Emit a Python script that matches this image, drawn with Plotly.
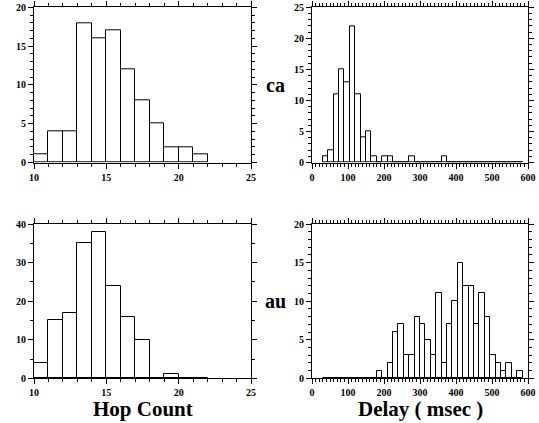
import plotly.graph_objects as go

# Hop count histograms (bin width 1)
hop_bins = [10, 11, 12, 13, 14, 15, 16, 17, 18, 19, 20, 21]
hop_ca = [1, 4, 4, 18, 16, 17, 12, 8, 5, 2, 2, 1]
hop_au = [4, 15, 17, 35, 38, 24, 16, 10, 0, 1, 0, 0]

# Delay histograms (bin width 15 msec), left edges
delay_bins = [30, 45, 60, 75, 90, 105, 120, 135, 150, 165, 180, 195, 210, 225, 240,
              255, 270, 285, 300, 315, 330, 345, 360, 375, 390, 405, 420, 435, 450,
              465, 480, 495, 510, 525, 540, 555, 570]
delay_ca = [1, 2, 11, 15, 13, 22, 11, 4, 5, 1, 0, 1, 1, 0, 0,
            0, 1, 0, 0, 0, 0, 0, 1, 0, 0, 0, 0, 0, 0,
            0, 0, 0, 0, 0, 0, 0, 0]
delay_au = [0, 0, 0, 0, 0, 0, 0, 0, 0, 0, 1, 0, 2, 6, 7,
            3, 3, 8, 7, 5, 3, 11, 2, 7, 10, 15, 12, 12, 7,
            11, 8, 3, 2, 1, 2, 0, 1]

HOP_W = 1
DELAY_W = 15
row_labels = ["ca", "au"]
x_titles = ["Hop Count", "Delay ( msec )"]

FONT = "Liberation Serif"
fig = go.Figure()

def add_bars(x, y, w, xa, ya):
    fig.add_trace(go.Bar(x=x, y=y, width=w, offset=0, xaxis=xa, yaxis=ya,
                         marker=dict(color="white", line=dict(color="black", width=1)),
                         showlegend=False, hoverinfo="skip"))

add_bars(hop_bins, hop_ca, HOP_W, "x", "y")
add_bars(delay_bins, delay_ca, DELAY_W, "x2", "y2")
add_bars(hop_bins, hop_au, HOP_W, "x3", "y3")
add_bars(delay_bins, delay_au, DELAY_W, "x4", "y4")

tickfont = dict(family=FONT, size=10, color="black", weight="bold")

def xax(dom, anchor, rng, dtick, minor):
    return dict(domain=dom, anchor=anchor, range=rng, dtick=dtick, tick0=rng[0],
                showgrid=False, zeroline=False, showline=True, linecolor="black",
                linewidth=1, mirror="ticks", ticks="outside", ticklen=5, tickwidth=1,
                tickcolor="black", tickfont=tickfont,
                minor=dict(dtick=minor, ticks="outside", ticklen=3, tickcolor="black",
                           showgrid=False))

def yax(dom, anchor, rng, dtick, minor):
    return dict(domain=dom, anchor=anchor, range=rng, dtick=dtick, tick0=0,
                showgrid=False, zeroline=False, showline=True, linecolor="black",
                linewidth=1, mirror="ticks", ticks="outside", ticklen=5, tickwidth=1,
                tickcolor="black", tickfont=tickfont,
                minor=dict(dtick=minor, ticks="outside", ticklen=3, tickcolor="black",
                           showgrid=False))

xl = [34 / 539, 251 / 539]
xr = [312 / 539, 528 / 539]
yt = [1 - 162.5 / 423, 1 - 7.3 / 423]
yb = [1 - 378.3 / 423, 1 - 224 / 423]

fig.update_layout(
    autosize=True, margin=dict(l=0, r=0, t=0, b=0, autoexpand=False),
    paper_bgcolor="white", plot_bgcolor="white", bargap=0,
    xaxis=xax(xl, "y", [10, 25], 5, 1),
    yaxis=yax(yt, "x", [0, 20], 5, 1),
    xaxis2=xax(xr, "y2", [0, 600], 100, 10),
    yaxis2=yax(yt, "x2", [0, 25], 5, 1),
    xaxis3=xax(xl, "y3", [10, 25], 5, 1),
    yaxis3=yax(yb, "x3", [0, 40], 10, 5),
    xaxis4=xax(xr, "y4", [0, 600], 100, 10),
    yaxis4=yax(yb, "x4", [0, 20], 5, 1),
)

def label(text, px, py, size):
    fig.add_annotation(text="<b>%s</b>" % text, x=px / 539, y=1 - py / 423,
                       xref="paper", yref="paper", xanchor="center", yanchor="middle",
                       showarrow=False,
                       font=dict(family=FONT, size=size, color="black"))

label(row_labels[0], 275, 85, 20)
label(row_labels[1], 275, 301, 20)
label(x_titles[0], 143, 409, 21)
label(x_titles[1], 420, 409, 21)

fig.write_html(
    "out.html",
    config={"displayModeBar": False, "responsive": True},
    default_width="100vw",
    default_height="100vh",
    post_script=("document.body.style.margin='0';"
                 "document.body.style.overflow='hidden';"
                 "document.documentElement.style.overflow='hidden';"),
)
